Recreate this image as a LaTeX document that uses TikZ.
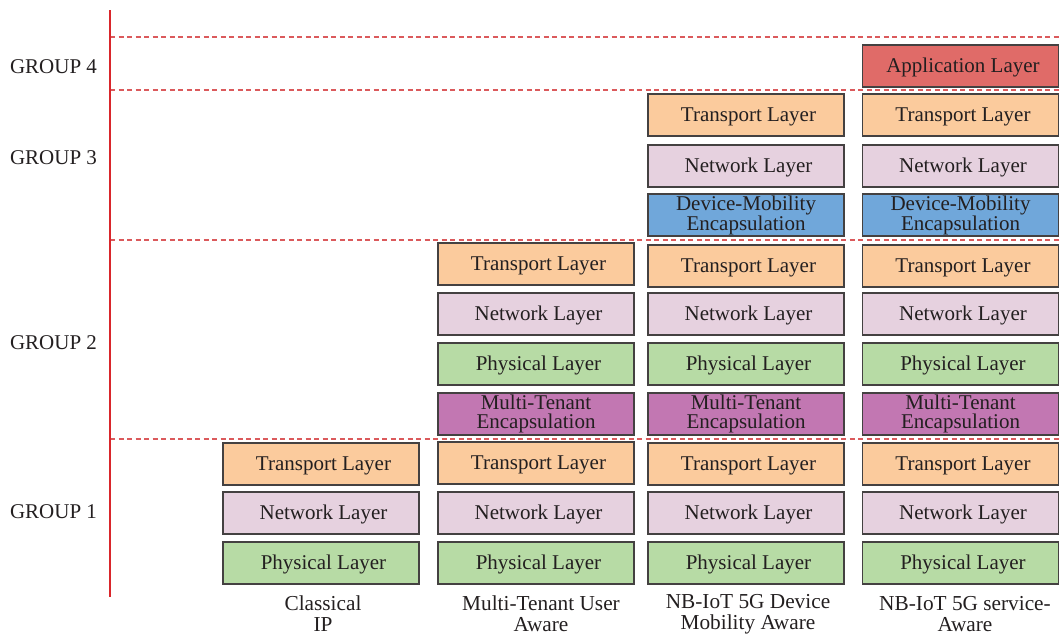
\documentclass[tikz,border=0pt]{standalone}
\usepackage{fontspec}
\setmainfont{Liberation Serif}
\definecolor{txt}{HTML}{231F20}
\definecolor{axisred}{HTML}{D9262B}
\definecolor{sepred}{HTML}{DB5A5C}
\definecolor{transportc}{HTML}{FBCB9D}
\definecolor{networkc}{HTML}{E6D1DF}
\definecolor{physicalc}{HTML}{B7DBA5}
\definecolor{tenantc}{HTML}{C277B2}
\definecolor{mobilityc}{HTML}{70A7DA}
\definecolor{appc}{HTML}{E06B68}
\tikzset{
  layer/.style={draw=txt!85, line width=1.2pt, minimum width=196pt, minimum height=42pt,
    inner sep=0pt, align=center, text=txt, font=\fontsize{21}{19}\selectfont},
  % single-line boxes: text sits a touch right of centre and slightly low
  oneline/.style={layer, text height=15.5pt, text depth=3.5pt,
    execute at begin node={\hspace*{5pt}}},
  transport/.style={oneline, fill=transportc},
  network/.style={oneline, fill=networkc},
  physical/.style={oneline, fill=physicalc},
  application/.style={oneline, fill=appc},
  tenant/.style={layer, fill=tenantc},
  mobility/.style={layer, fill=mobilityc},
  grouplabel/.style={text=txt, font=\fontsize{21}{24}\selectfont},
  collabel/.style={text=txt, align=center, font=\fontsize{21.3}{21}\selectfont},
  separator/.style={draw=sepred, line width=1.3pt, dash pattern=on 5pt off 3.5pt},
}
\begin{document}
\begin{tikzpicture}[x=1pt, y=-1pt]
\useasboundingbox (0,0) rectangle (1061,637);

% group separators and axis
\foreach \yy in {37,90,240,439} \draw[separator] (110,\yy) -- (1061,\yy);
\draw[axisred, line width=1.3pt] (110,10) -- (110,597);

% group labels
\node[grouplabel] (g4) at (53.5,67) {GROUP 4};
\node[grouplabel] (g3) at (53.5,158) {GROUP 3};
\node[grouplabel] (g2) at (53.5,343) {GROUP 2};
\node[grouplabel] (g1) at (53.5,512) {GROUP 1};

% Classical IP
\node[transport] (a1t) at (321,464) {Transport Layer};
\node[network]   (a1n) at (321,513) {Network Layer};
\node[physical]  (a1p) at (321,563) {Physical Layer};

% Multi-tenant user aware
\node[transport] (b2t) at (536,264) {Transport Layer};
\node[network]   (b2n) at (536,314) {Network Layer};
\node[physical]  (b2p) at (536,364) {Physical Layer};
\node[tenant]    (b2m) at (536,414) {Multi-Tenant\\Encapsulation};
\node[transport] (b1t) at (536,463) {Transport Layer};
\node[network]   (b1n) at (536,513) {Network Layer};
\node[physical]  (b1p) at (536,563) {Physical Layer};

% NB-IoT device mobility aware
\node[transport] (c3t) at (746,115) {Transport Layer};
\node[network]   (c3n) at (746,166) {Network Layer};
\node[mobility]  (c3d) at (746,215) {Device-Mobility\\Encapsulation};
\node[transport] (c2t) at (746,266) {Transport Layer};
\node[network]   (c2n) at (746,314) {Network Layer};
\node[physical]  (c2p) at (746,364) {Physical Layer};
\node[tenant]    (c2m) at (746,414) {Multi-Tenant\\Encapsulation};
\node[transport] (c1t) at (746,464) {Transport Layer};
\node[network]   (c1n) at (746,513) {Network Layer};
\node[physical]  (c1p) at (746,563) {Physical Layer};

% NB-IoT service aware
\node[application] (d4a) at (960.5,66) {Application Layer};
\node[transport] (d3t) at (960.5,115) {Transport Layer};
\node[network]   (d3n) at (960.5,166) {Network Layer};
\node[mobility]  (d3d) at (960.5,215) {Device-Mobility\\Encapsulation};
\node[transport] (d2t) at (960.5,266) {Transport Layer};
\node[network]   (d2n) at (960.5,314) {Network Layer};
\node[physical]  (d2p) at (960.5,364) {Physical Layer};
\node[tenant]    (d2m) at (960.5,414) {Multi-Tenant\\Encapsulation};
\node[transport] (d1t) at (960.5,464) {Transport Layer};
\node[network]   (d1n) at (960.5,513) {Network Layer};
\node[physical]  (d1p) at (960.5,563) {Physical Layer};

% column captions
\node[collabel] (la) at (323,614) {Classical\\IP};
\node[collabel] (lb) at (541,614) {Multi-Tenant User\\Aware};
\node[collabel] (lc) at (748,614) {NB-IoT 5G Device\\Mobility Aware};
\node[collabel] (ld) at (965,614) {NB-IoT 5G service-\\Aware};
\end{tikzpicture}
\end{document}
